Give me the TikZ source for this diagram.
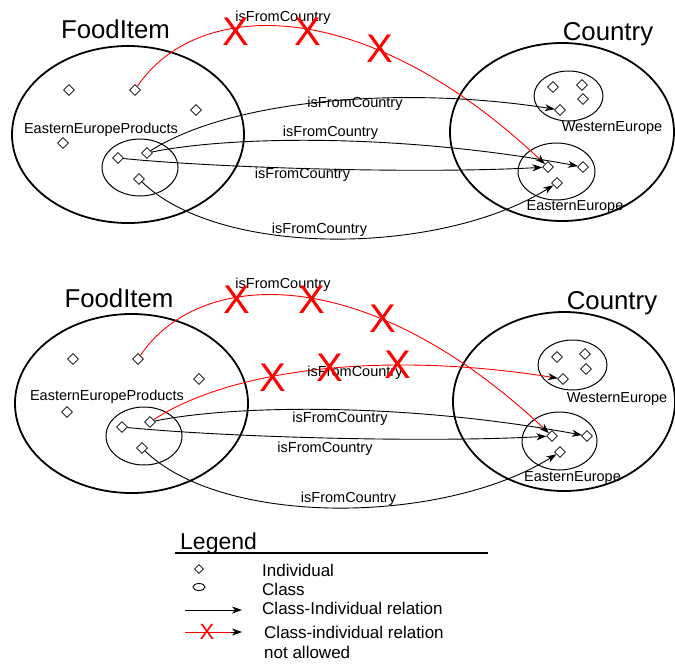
\documentclass[tikz,border=0pt]{standalone}
\usepackage{fontspec}
\setmainfont{Liberation Sans}
\usetikzlibrary{shapes.geometric,arrows.meta}

\begin{document}
\begin{tikzpicture}[x=1pt,y=-1pt,
    item/.style={diamond,draw,line width=0.8pt,inner sep=0pt,minimum size=11pt},
    bigclass/.style={ellipse,draw,line width=1.8pt,inner sep=0pt},
    subclass/.style={ellipse,draw,line width=1pt,inner sep=0pt},
    rel/.style={line width=0.9pt,-{Stealth[length=10pt,width=7pt,inset=3pt]}},
    norel/.style={line width=0.9pt,red,-{Stealth[length=10pt,width=7pt,inset=3pt,color=black]}},
    lbl/.style={font=\fontsize{14.5}{16}\selectfont,inner sep=0pt,text height=10.4pt,text depth=0pt},
    title/.style={font=\fontsize{25.8}{30}\selectfont,inner sep=0pt,text height=18.5pt,text depth=0pt},
    nope/.style={red,font=\fontsize{40}{40}\selectfont,inner sep=0pt,text height=28.6pt,text depth=0pt},
    legtext/.style={font=\fontsize{17}{20}\selectfont,inner sep=0pt,text height=12.2pt,text depth=0pt,anchor=west}]
    \useasboundingbox (0,0) rectangle (675,664);

    % upper diagram
    \node[bigclass,minimum width=232pt,minimum height=177pt] (food) at (128,134.5) {};
    \node[title] (foodt) at (115.5,29.5) {FoodItem};
    \node[subclass,minimum width=76pt,minimum height=57pt] (eep) at (140,167.5) {};
    \node[lbl] (eept) at (101,128) {EasternEuropeProducts};
    \node[item] (f1) at (69,90) {};
    \node[item] (f2) at (135,90) {};
    \node[item] (f3) at (196,110) {};
    \node[item] (f4) at (63,143) {};
    \node[item] (p1) at (118,158) {};
    \node[item] (p2) at (147,153) {};
    \node[item] (p3) at (139,179) {};

    \node[bigclass,minimum width=224pt,minimum height=178pt] (country) at (562,132) {};
    \node[title] (countryt) at (608,31) {Country};
    \node[subclass,minimum width=69pt,minimum height=50pt] (we) at (568.5,96) {};
    \node[lbl] (wet) at (612,126) {WesternEurope};
    \node[item] (w1) at (553,87) {};
    \node[item] (w2) at (582,85) {};
    \node[item] (w3) at (583,99) {};
    \node[item] (w4) at (560,110) {};
    \node[subclass,minimum width=77pt,minimum height=57pt] (ee) at (556.5,171.5) {};
    \node[lbl] (eet) at (575,205) {EasternEurope};
    \node[item] (e1) at (548,167) {};
    \node[item] (e2) at (583,167) {};
    \node[item] (e3) at (557,183) {};

    \draw[norel] (f2) .. controls (195,0) and (360,-10) .. (e1);
    \node[lbl] (r1t) at (283,16) {isFromCountry};
    \node[nope] (x1) at (235.5,31) {X};
    \node[nope] (x2) at (308,31) {X};
    \node[nope] (x3) at (380,48) {X};

    \draw[rel] (p2) .. controls (230,100) and (400,85) .. (w4);
    \node[lbl] (a1t) at (355,102) {isFromCountry};
    \draw[rel] (p2) .. controls (230,136) and (400,133) .. (e2);
    \node[lbl] (a2t) at (330.5,131) {isFromCountry};
    \draw[rel] (p1) .. controls (220,168) and (420,174) .. (e1);
    \node[lbl] (a3t) at (302.5,173) {isFromCountry};
    \draw[rel] (p3) .. controls (220,258) and (440,256) .. (e3);
    \node[lbl] (a4t) at (319.5,228.7) {isFromCountry};

    % lower diagram
    \node[bigclass,minimum width=233pt,minimum height=179pt] (food2) at (131.5,403.5) {};
    \node[title] (foodt2) at (119,298.5) {FoodItem};
    \node[subclass,minimum width=76pt,minimum height=58pt] (eep2) at (144,436) {};
    \node[lbl] (eept2) at (107,395) {EasternEuropeProducts};
    \node[item] (g1) at (73,359) {};
    \node[item] (g2) at (138,359) {};
    \node[item] (g3) at (199,379) {};
    \node[item] (g4) at (67,412) {};
    \node[item] (q1) at (122,427) {};
    \node[item] (q2) at (150,422) {};
    \node[item] (q3) at (142,448) {};

    \node[bigclass,minimum width=222pt,minimum height=179pt] (country2) at (564,401.5) {};
    \node[title] (countryt2) at (612,300.5) {Country};
    \node[subclass,minimum width=69pt,minimum height=50pt] (we2) at (572.5,365) {};
    \node[lbl] (wet2) at (617,397) {WesternEurope};
    \node[item] (v1) at (557,357) {};
    \node[item] (v2) at (585,354) {};
    \node[item] (v3) at (586,369) {};
    \node[item] (v4) at (563,379) {};
    \node[subclass,minimum width=75pt,minimum height=58pt] (ee2) at (559.5,441) {};
    \node[lbl] (eet2) at (572.5,476) {EasternEurope};
    \node[item] (k1) at (552,436) {};
    \node[item] (k2) at (587,436) {};
    \node[item] (k3) at (560,452) {};

    \draw[norel] (g2) .. controls (198.5,269) and (363.5,259) .. (k1);
    \node[lbl] (r2t) at (283,283) {isFromCountry};
    \node[nope] (x4) at (237,299) {X};
    \node[nope] (x5) at (312,299) {X};
    \node[nope] (x6) at (383,318) {X};

    \draw[norel] (q2) .. controls (230,370) and (380,350) .. (v4);
    \node[lbl] (r3t) at (355,371) {isFromCountry};
    \node[nope] (x7) at (273,377) {X};
    \node[nope] (x8) at (330,367) {X};
    \node[nope] (x9) at (398,364) {X};

    \draw[rel] (q2) .. controls (233,405) and (403,402) .. (k2);
    \node[lbl] (b1t) at (340,417) {isFromCountry};
    \draw[rel] (q1) .. controls (224,437) and (424,443) .. (k1);
    \node[lbl] (b2t) at (325,447) {isFromCountry};
    \draw[rel] (q3) .. controls (223,527) and (443,525) .. (k3);
    \node[lbl] (b3t) at (348.5,497) {isFromCountry};

    % legend
    \node[font=\fontsize{23}{26}\selectfont,inner sep=0pt,text height=16.5pt,text depth=0pt,anchor=west] (legt) at (180,541.5) {Legend};
    \coordinate (legl) at (175,553);
    \coordinate (legr) at (488,553);
    \draw[line width=2.5pt] (legl) -- (legr);
    \node[item,minimum size=9pt] (legitem) at (199,569) {};
    \node[legtext] (legitemt) at (262,570) {Individual};
    \node[subclass,line width=0.9pt,minimum width=12pt,minimum height=7pt] (legclass) at (199,587) {};
    \node[legtext] (legclasst) at (262,589) {Class};
    \coordinate (rel1a) at (185,610);
    \coordinate (rel1b) at (242,610);
    \draw[rel] (rel1a) -- (rel1b);
    \node[legtext] (rel1t) at (262,608) {Class-Individual relation};
    \coordinate (rel2a) at (185,632);
    \coordinate (rel2m) at (231,632);
    \coordinate (rel2b) at (242,632);
    \draw[line width=0.9pt,red] (rel2a) -- (rel2m);
    \draw[rel] (rel2m) -- (rel2b);
    \node[nope,font=\fontsize{22}{22}\selectfont,text height=15.7pt] (legx) at (207,632) {X};
    \node[legtext] (rel2t) at (264,632) {Class-individual relation};
    \node[legtext] (rel2t2) at (264,652) {not allowed};
\end{tikzpicture}
\end{document}
